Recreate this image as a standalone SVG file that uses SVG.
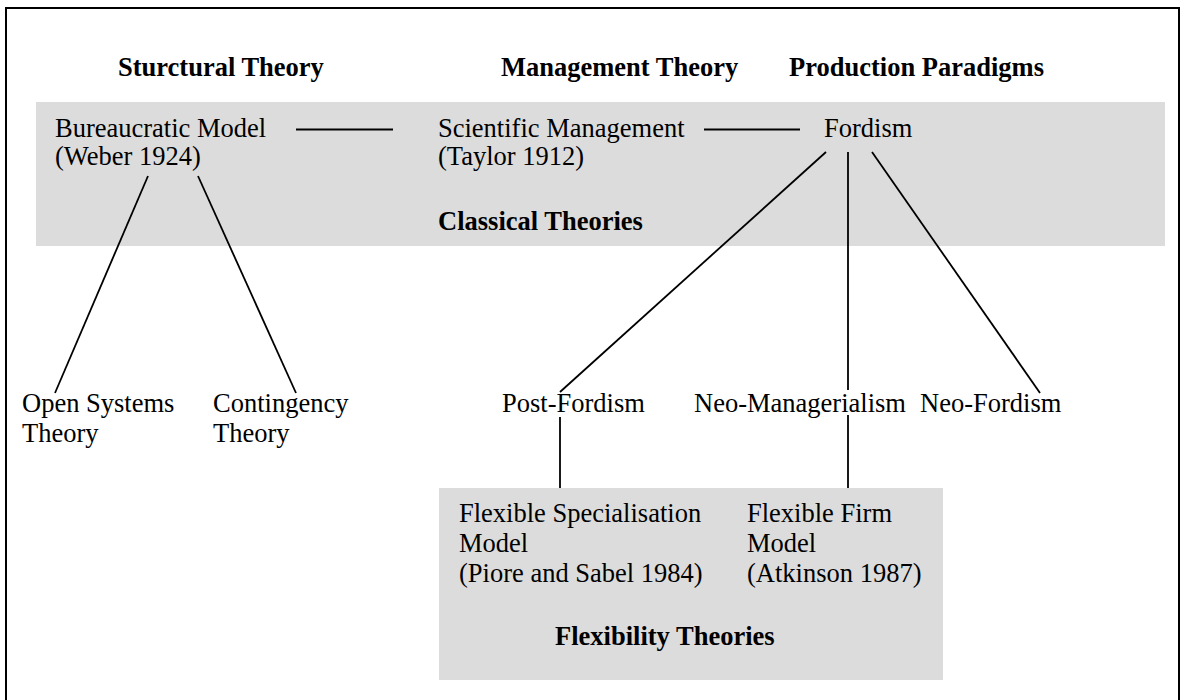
<svg xmlns="http://www.w3.org/2000/svg" width="1184" height="700" viewBox="0 0 1184 700">
<style>
.t{font-family:"Liberation Serif","Times New Roman",serif;font-size:26.5px;fill:#000}
.b{font-weight:bold}
.c{stroke:#000;stroke-width:1.8;fill:none}
.band{fill:#dcdcdc}
</style>
<rect x="0" y="0" width="1184" height="700" fill="#fff"/>
<rect x="6" y="8" width="1173" height="700" fill="none" stroke="#000" stroke-width="2"/>
<g id="classical-band"><rect class="band" x="36" y="102" width="1129" height="144"/><text class="t b" x="438" y="230">Classical Theories</text></g>
<g id="flexibility-band"><rect class="band" x="439" y="488" width="504" height="192"/><text class="t b" x="555" y="645">Flexibility Theories</text></g>
<g id="headings">
<text class="t b" x="118" y="76">Sturctural Theory</text>
<text class="t b" x="501" y="76">Management Theory</text>
<text class="t b" x="789" y="76">Production Paradigms</text>
</g>
<g id="connectors" class="c">
<line x1="296" y1="129.5" x2="393" y2="129.5"/>
<line x1="704" y1="129.5" x2="800" y2="129.5"/>
<line x1="148" y1="176" x2="55" y2="393"/>
<line x1="198" y1="176" x2="296" y2="393"/>
<line x1="826" y1="152" x2="560" y2="392"/>
<line x1="848" y1="152" x2="848" y2="390"/>
<line x1="872" y1="152" x2="1040" y2="393"/>
<line x1="560" y1="417" x2="560" y2="488"/>
<line x1="848" y1="415" x2="848" y2="488"/>
</g>
<g id="bureaucratic"><text class="t" x="55" y="137">Bureaucratic Model</text><text class="t" x="55" y="165">(Weber 1924)</text></g>
<g id="scientific"><text class="t" x="438" y="137">Scientific Management</text><text class="t" x="438" y="165">(Taylor 1912)</text></g>
<g id="fordism"><text class="t" x="824" y="137">Fordism</text></g>
<g id="open-systems"><text class="t" x="22" y="412">Open Systems</text><text class="t" x="22" y="442">Theory</text></g>
<g id="contingency"><text class="t" x="213" y="412">Contingency</text><text class="t" x="213" y="442">Theory</text></g>
<g id="post-fordism"><text class="t" x="502" y="412">Post-Fordism</text></g>
<g id="neo-managerialism"><text class="t" x="694" y="412">Neo-Managerialism</text></g>
<g id="neo-fordism"><text class="t" x="920" y="412">Neo-Fordism</text></g>
<g id="flex-spec"><text class="t" x="459" y="522">Flexible Specialisation</text><text class="t" x="459" y="552">Model</text><text class="t" x="459" y="582">(Piore and Sabel 1984)</text></g>
<g id="flex-firm"><text class="t" x="747" y="522">Flexible Firm</text><text class="t" x="747" y="552">Model</text><text class="t" x="747" y="582">(Atkinson 1987)</text></g>
</svg>
